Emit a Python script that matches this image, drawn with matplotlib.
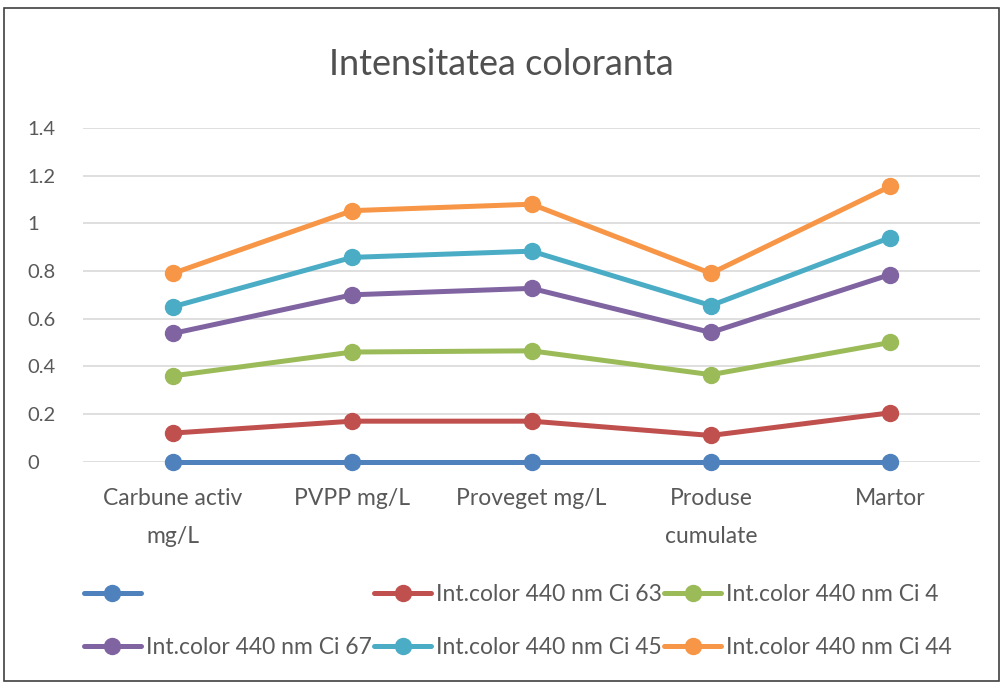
import matplotlib
matplotlib.use("Agg")
import matplotlib.pyplot as plt
from matplotlib.patches import Rectangle

categories = ["Carbune activ\nmg/L", "PVPP mg/L", "Proveget mg/L", "Produse\ncumulate", "Martor"]
series_labels = ["", "Int.color 440 nm Ci 63", "Int.color 440 nm Ci 4",
                 "Int.color 440 nm Ci 67", "Int.color 440 nm Ci 45", "Int.color 440 nm Ci 44"]
s_blank = [0, 0, 0, 0, 0]
s_ci63 = [0.12, 0.17, 0.17, 0.11, 0.205]
s_ci4 = [0.36, 0.46, 0.465, 0.365, 0.50]
s_ci67 = [0.538, 0.70, 0.727, 0.542, 0.785]
s_ci45 = [0.65, 0.857, 0.883, 0.655, 0.94]
s_ci44 = [0.79, 1.053, 1.08, 0.79, 1.155]
yticks = [0, 0.2, 0.4, 0.6, 0.8, 1, 1.2, 1.4]
ytick_labels = ["0", "0.2", "0.4", "0.6", "0.8", "1", "1.2", "1.4"]

colors = ["#4F81BD", "#C0504D", "#9BBB59", "#8064A2", "#4BACC6", "#F79646"]
all_series = [s_blank, s_ci63, s_ci4, s_ci67, s_ci45, s_ci44]

plt.rcParams['font.family'] = ['Lato', 'DejaVu Sans']
fig = plt.figure(figsize=(10.03, 6.84), dpi=100)
fig.patches.append(Rectangle((0.004, 0.005), 0.992, 0.983, transform=fig.transFigure,
                             fill=False, edgecolor="#404040", linewidth=1.2))
ax = fig.add_axes([0.083, 0.325, 0.894, 0.488])

x = list(range(len(categories)))
handles = []
for vals, c, lab in zip(all_series, colors, series_labels):
    h, = ax.plot(x, vals, color=c, linewidth=3.6, marker='o', markersize=11.5,
                 solid_capstyle='round', label=lab, clip_on=False, zorder=3)
    handles.append(h)

ax.set_xlim(-0.5, 4.5)
ax.set_ylim(0, 1.4)
ax.set_yticks(yticks)
ax.set_yticklabels(ytick_labels)
ax.set_xticks(x)
ax.set_xticklabels(categories, linespacing=2.0, fontsize=16.5)
ax.grid(axis='y', color="#D9D9D9", linewidth=1.2)
ax.set_axisbelow(True)
for sp in ax.spines.values():
    sp.set_visible(False)
ax.tick_params(axis='both', length=0, labelcolor="#595959")
ax.tick_params(axis='y', labelsize=14.5, pad=40)
ax.tick_params(axis='x', pad=19)
for t in ax.get_yticklabels():
    t.set_horizontalalignment('left')

fig.suptitle("Intensitatea coloranta", y=0.93, fontsize=26, color="#505050")

order = [0, 3, 1, 4, 2, 5]
leg = fig.legend([handles[i] for i in order], [series_labels[i] for i in order],
                 ncol=3, loc='upper left', bbox_to_anchor=(0.063, 0.176),
                 frameon=False, fontsize=16.5, handlelength=2.5, handletextpad=0.2,
                 columnspacing=0.1, labelspacing=1.38, labelcolor="#595959")

fig.savefig("out.png", dpi=100)
